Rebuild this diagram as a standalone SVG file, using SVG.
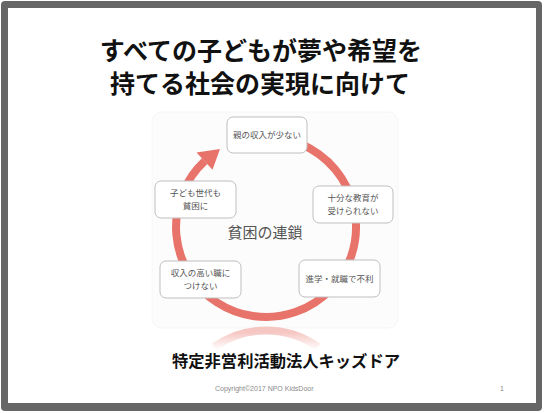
<svg xmlns="http://www.w3.org/2000/svg" width="544" height="413" viewBox="0 0 544 413">
  <defs>
    <style>
      .title { font-family: "Noto Sans CJK JP", sans-serif; font-weight: bold; font-size: 25px; fill: #111; text-anchor: middle; }
      .box { fill: #ffffff; stroke: #bfbfbf; stroke-width: 1; }
      .lbl { font-family: "Noto Sans CJK JP", sans-serif; font-size: 8.5px; fill: #555; text-anchor: middle; }
      .ring { fill: none; stroke: #e8736b; stroke-width: 8; }
      .center { font-family: "Noto Sans CJK JP", sans-serif; font-size: 15px; fill: #555; text-anchor: middle; }
      .org { font-family: "Noto Sans CJK JP", sans-serif; font-weight: bold; font-size: 16.3px; fill: #111; }
      .foot { font-family: "Liberation Sans", "Noto Sans CJK JP", sans-serif; font-size: 7px; fill: #8a8a8a; }
    </style>
    <linearGradient id="refl" x1="0" y1="332" x2="0" y2="350" gradientUnits="userSpaceOnUse">
      <stop offset="0" stop-color="#f5c6c2"/>
      <stop offset="1" stop-color="#ffffff"/>
    </linearGradient>
  </defs>

  <!-- frame -->
  <rect x="1" y="1" width="541" height="410" rx="4" fill="#666666"/>
  <rect x="8" y="8" width="528" height="395" fill="#ffffff"/>

  <!-- title -->
  <text class="title" x="261" y="60">すべての子どもが夢や希望を</text>
  <text class="title" x="260" y="93">持てる社会の実現に向けて</text>

  <!-- diagram panel -->
  <rect x="152" y="112" width="246" height="216" rx="10" fill="#fcfcfc" stroke="#f6f6f6"/>

  <!-- connectors -->
  <g id="connectors">
    <path class="ring" d="M273.8,137.3 A90,90 0 1 1 204.6,161.2"/>
    <polygon points="196.5,152.5 220,149 212.5,169.8" fill="#e8736b"/>
    <path d="M214,347 A90,90 0 0 1 318,347" fill="none" stroke="url(#refl)" stroke-width="8"/>
  </g>

  <text class="center" x="265" y="238">貧困の連鎖</text>

  <g id="node1">
    <rect class="box" x="227" y="117" width="80" height="36" rx="6"/>
    <text class="lbl" x="267" y="138">親の収入が少ない</text>
  </g>
  <g id="node2">
    <rect class="box" x="313" y="186" width="80" height="37" rx="6"/>
    <text class="lbl" x="353" y="201">十分な教育が</text>
    <text class="lbl" x="353" y="214">受けられない</text>
  </g>
  <g id="node3">
    <rect class="box" x="299" y="260" width="81" height="37" rx="6"/>
    <text class="lbl" x="339.5" y="281.5">進学・就職で不利</text>
  </g>
  <g id="node4">
    <rect class="box" x="160" y="261" width="81" height="37" rx="6"/>
    <text class="lbl" x="200.5" y="276">収入の高い職に</text>
    <text class="lbl" x="200.5" y="289">つけない</text>
  </g>
  <g id="node5">
    <rect class="box" x="155" y="181" width="81" height="37" rx="6"/>
    <text class="lbl" x="195.5" y="196">子ども世代も</text>
    <text class="lbl" x="195.5" y="209">貧困に</text>
  </g>

  <!-- footer -->
  <text class="org" x="172" y="367">特定非営利活動法人キッズドア</text>
  <text class="foot" x="215" y="391">Copyright©2017 NPO KidsDoor</text>
  <text class="foot" x="500" y="391">1</text>
</svg>
